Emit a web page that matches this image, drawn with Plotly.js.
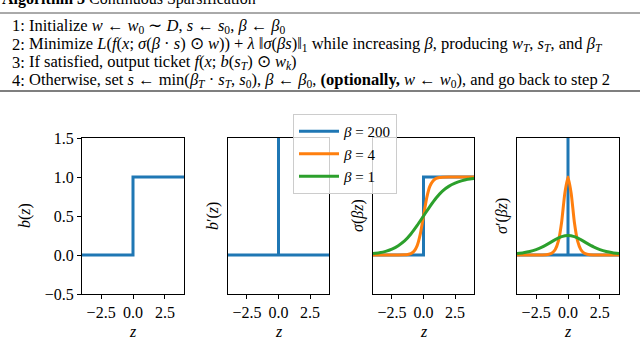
<!DOCTYPE html>
<html>
<head>
<meta charset="utf-8">
<script src="https://cdn.plot.ly/plotly-3.0.1.min.js"></script>
<style>
  html, body { margin: 0; padding: 0; background: #fff; }
  #chart { width: 640px; height: 339px; }
</style>
</head>
<body>
<div id="chart"></div>
<script>
// values
const zStep = [-4, 0, 0, 4];
const bStep = [0, 0, 1, 1];
const zSpike = [-4, 0, 0, 0, 4];
const bSpike = [0, 0, 50, 0, 0];

const zBeta4 = [-4, -2, -1.5, -1.25, -1, -0.75, -0.5, -0.25, 0, 0.25, 0.5, 0.75, 1, 1.25, 1.5, 2, 4];
const sigBeta4 = [0, 0, 0.002, 0.007, 0.018, 0.047, 0.12, 0.27, 0.5, 0.73, 0.88, 0.95, 0.982, 0.993, 0.998, 1, 1];
const dsigBeta4 = [0, 0, 0.01, 0.026, 0.07, 0.18, 0.42, 0.79, 1.0, 0.79, 0.42, 0.18, 0.07, 0.026, 0.01, 0, 0];

const zBeta1 = [-4, -3.5, -3, -2.5, -2, -1.5, -1, -0.5, 0, 0.5, 1, 1.5, 2, 2.5, 3, 3.5, 4];
const sigBeta1 = [0.018, 0.029, 0.047, 0.076, 0.12, 0.18, 0.27, 0.38, 0.5, 0.62, 0.73, 0.82, 0.88, 0.92, 0.95, 0.97, 0.98];
const dsigBeta1 = [0.018, 0.029, 0.045, 0.07, 0.105, 0.149, 0.197, 0.235, 0.25, 0.235, 0.197, 0.149, 0.105, 0.07, 0.045, 0.029, 0.018];

const legendNames = ["<i>β</i> = 200", "<i>β</i> = 4", "<i>β</i> = 1"];
const xTickVals = [-2.5, 0, 2.5];
const xTickText = ["−2.5", "0.0", "2.5"];
const yTickVals = [-0.5, 0, 0.5, 1, 1.5];
const yTickText = ["−0.5", "0.0", "0.5", "1.0", "1.5"];
const xTitle = "<i>z</i>";
const yTitles = ["<i>b</i>(<i>z</i>)", "<i>b</i>′(<i>z</i>)", "<i>σ</i>(<i>βz</i>)", "<i>σ</i>′(<i>βz</i>)"];

const algoLines = [
  "Initialize <i>w</i> ← <i>w</i><sub>0</sub> ∼ <i>D</i>, <i>s</i> ← <i>s</i><sub>0</sub>, <i>β</i> ← <i>β</i><sub>0</sub>",
  "Minimize <i>L</i>(<i>f</i>(<i>x</i>; <i>σ</i>(<i>β</i> · <i>s</i>) ⊙ <i>w</i>)) + <i>λ</i> ‖<i>σ</i>(<i>βs</i>)‖<sub>1</sub> while increasing <i>β</i>, producing <i>w</i><sub><i>T</i></sub>, <i>s</i><sub><i>T</i></sub>, and <i>β</i><sub><i>T</i></sub>",
  "If satisfied, output ticket <i>f</i>(<i>x</i>; <i>b</i>(<i>s</i><sub><i>T</i></sub>) ⊙ <i>w</i><sub><i>k</i></sub>)",
  "Otherwise, set <i>s</i> ← min(<i>β</i><sub><i>T</i></sub> · <i>s</i><sub><i>T</i></sub>, <i>s</i><sub>0</sub>), <i>β</i> ← <i>β</i><sub>0</sub>, <b>(optionally,</b> <i>w</i> ← <i>w</i><sub>0</sub>), and go back to step 2"
];

const W = 640, H = 339;
const BLUE = "#1f77b4", ORANGE = "#ff7f0e", GREEN = "#2ca02c";
const FONT = "Liberation Serif, Times New Roman, serif";

function line(x, y, color, ax, name) {
  return {
    x: x, y: y, type: "scatter", mode: "lines",
    xaxis: "x" + ax, yaxis: "y" + ax,
    line: { color: color, width: 3, shape: "spline", smoothing: 0.6 },
    name: name || "", showlegend: !!name, hoverinfo: "skip"
  };
}

const data = [
  line(zStep, bStep, BLUE, 1),
  line(zSpike, bSpike, BLUE, 2),
  line(zStep, bStep, BLUE, 3, legendNames[0]),
  line(zBeta4, sigBeta4, ORANGE, 3, legendNames[1]),
  line(zBeta1, sigBeta1, GREEN, 3, legendNames[2]),
  line(zSpike, bSpike, BLUE, 4),
  line(zBeta4, dsigBeta4, ORANGE, 4),
  line(zBeta1, dsigBeta1, GREEN, 4)
];
// step/spike traces should stay straight
[0, 1, 2, 5].forEach(i => { data[i].line.shape = "linear"; });

const xPix = [[82, 184], [228, 329], [373, 474], [517, 619]];
const yTitleX = [25, 213, 358, 502];
const yDom = [1 - 294 / H, 1 - 138 / H];

const layout = {
  width: W, height: H,
  margin: { l: 0, r: 0, t: 0, b: 0 },
  paper_bgcolor: "#fff", plot_bgcolor: "#fff",
  font: { family: FONT, size: 16, color: "#000" },
  showlegend: true,
  legend: {
    x: 293 / W, y: 1 - 114 / H, xanchor: "left", yanchor: "top",
    bgcolor: "rgba(255,255,255,0.8)", bordercolor: "#cccccc", borderwidth: 1,
    font: { family: FONT, size: 15, color: "#000" },
    itemwidth: 40, tracegroupgap: 0
  },
  shapes: [
    { type: "line", xref: "paper", yref: "paper", x0: 0, x1: 1, y0: 1 - 13 / H, y1: 1 - 13 / H, line: { color: "#555", width: 1 } },
    { type: "line", xref: "paper", yref: "paper", x0: 0, x1: 1, y0: 1 - 91 / H, y1: 1 - 91 / H, line: { color: "#555", width: 1.5 } }
  ],
  annotations: [
    { xref: "paper", yref: "paper", x: 0, y: 1 + 1 / H, xanchor: "left", yanchor: "middle", showarrow: false,
      text: "<b>Algorithm 3</b> Continuous Sparsification", font: { family: FONT, size: 16 } }
  ]
};

const lineY = [26, 44, 62, 80];
algoLines.forEach((t, i) => {
  layout.annotations.push({ xref: "paper", yref: "paper", x: 10 / W, y: 1 - lineY[i] / H,
    xanchor: "left", yanchor: "middle", showarrow: false, text: (i + 1) + ":", font: { family: FONT, size: 16.5 } });
  layout.annotations.push({ xref: "paper", yref: "paper", x: 27 / W, y: 1 - lineY[i] / H,
    xanchor: "left", yanchor: "middle", showarrow: false, text: t, font: { family: FONT, size: 16.5 } });
});

for (let i = 0; i < 4; i++) {
  const k = i === 0 ? "" : String(i + 1);
  layout["xaxis" + k] = {
    domain: [xPix[i][0] / W, xPix[i][1] / W], anchor: "y" + k,
    range: [-4, 4], tickvals: xTickVals, ticktext: xTickText,
    ticks: "outside", ticklen: 4, tickcolor: "#000", tickwidth: 1,
    showline: true, mirror: true, linecolor: "#000", linewidth: 1,
    showgrid: false, zeroline: false,
    tickfont: { family: FONT, size: 16 }
  };
  layout["yaxis" + k] = {
    domain: yDom, anchor: "x" + k,
    range: [-0.5, 1.5], tickvals: yTickVals, ticktext: yTickText,
    ticks: i === 0 ? "outside" : "", ticklen: 4, tickcolor: "#000", tickwidth: 1,
    showticklabels: i === 0,
    showline: true, mirror: true, linecolor: "#000", linewidth: 1,
    showgrid: false, zeroline: false,
    tickfont: { family: FONT, size: 16 }
  };
  // axis titles placed next to each panel
  layout.annotations.push({ xref: "paper", yref: "paper", x: yTitleX[i] / W, y: (yDom[0] + yDom[1]) / 2,
    xanchor: "center", yanchor: "middle", showarrow: false, textangle: -90,
    text: yTitles[i], font: { family: FONT, size: 16 } });
  layout.annotations.push({ xref: "paper", yref: "paper", x: (xPix[i][0] + xPix[i][1]) / 2 / W, y: 1 - 331 / H,
    xanchor: "center", yanchor: "middle", showarrow: false,
    text: xTitle, font: { family: FONT, size: 16 } });
}

Plotly.newPlot("chart", data, layout, { staticPlot: true, displayModeBar: false });
</script>
</body>
</html>
